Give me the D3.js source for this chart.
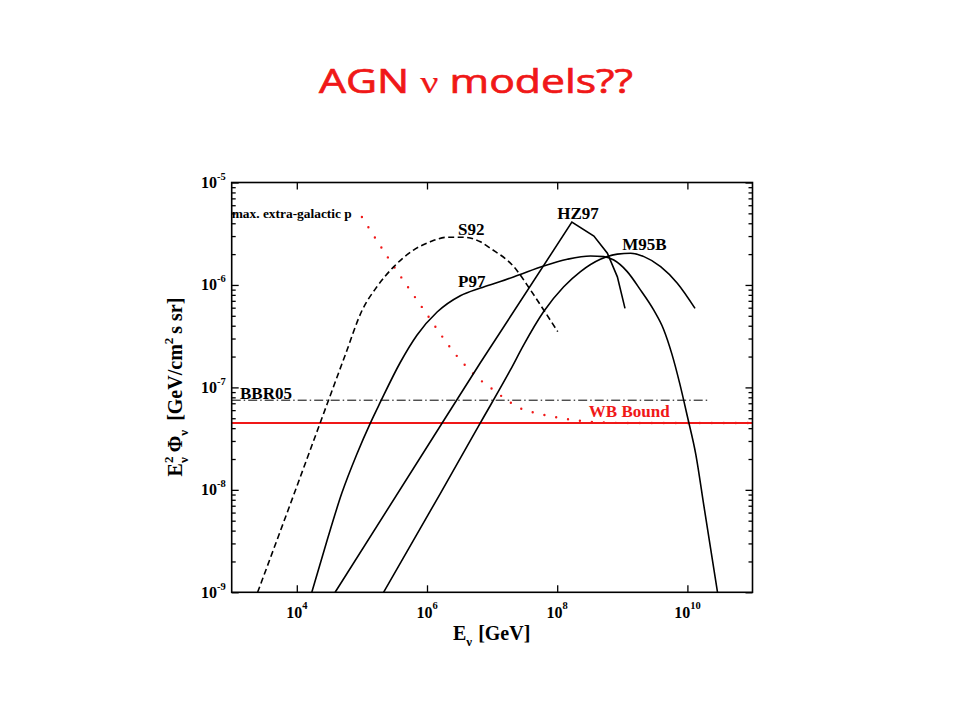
<!DOCTYPE html>
<html><head><meta charset="utf-8">
<script src="https://cdn.jsdelivr.net/npm/d3@7"></script>
<style>body{margin:0;background:#fff}</style>
</head><body>
<svg id="c" width="960" height="720"></svg>
<script>
// ---- data ----
const xTicks = [1e4, 1e6, 1e8, 1e10];
const xTickExp = ["4", "6", "8", "10"];
const yTicks = [1e-9, 1e-8, 1e-7, 1e-6, 1e-5];
const yTickExp = ["-9", "-8", "-7", "-6", "-5"];

const s92E = [2.5e3, 7.9e3, 2.28e4, 5.53e4, 1.0e5, 1.7e5, 3.1e5, 6.2e5, 1.12e6, 2.03e6, 3.66e6, 6.6e6, 9.4e6, 2.15e7, 3.9e7, 6.2e7, 1.02e8];
const s92F = [1.0e-9, 7.18e-9, 4.48e-8, 2.06e-7, 5.6e-7, 9.6e-7, 1.51e-6, 2.19e-6, 2.64e-6, 2.92e-6, 2.92e-6, 2.64e-6, 2.28e-6, 1.51e-6, 8.9e-7, 5.7e-7, 3.5e-7];

const p97E = [1.7e4, 2.9e4, 4.92e4, 8.38e4, 1.37e5, 1.91e5, 3.88e5, 7.0e5, 1.43e6, 3.25e6, 6.6e6, 1.34e7, 2.56e7, 6.2e7, 1.43e8, 3.25e8, 5.2e8, 7.4e8, 1.19e9, 1.91e9, 3.03e9, 4.3e9, 5.8e9, 7.6e9, 1.0e10, 1.35e10, 1.8e10, 2.9e10];
const p97F = [1.0e-9, 3.17e-9, 9.3e-9, 2.24e-8, 4.59e-8, 7.13e-8, 1.75e-7, 3.23e-7, 5.44e-7, 7.85e-7, 9.33e-7, 1.08e-6, 1.25e-6, 1.53e-6, 1.78e-6, 1.92e-6, 1.89e-6, 1.75e-6, 1.35e-6, 8.9e-7, 5.7e-7, 3.7e-7, 2.1e-7, 1.1e-7, 5.2e-8, 2.2e-8, 6.85e-9, 1.0e-9];

const hz97E = [3.88e4, 1.7e6, 6.6e6, 1.68e8, 3.66e8, 5.9e8, 8.4e8, 1.1e9];
const hz97F = [1.0e-9, 4.47e-8, 1.74e-7, 4.1e-6, 3.0e-6, 2.04e-6, 1.2e-6, 5.9e-7];

const m95bE = [2.15e5, 1.6e6, 6.6e6, 1.91e7, 3.06e7, 6.2e7, 1.26e8, 2.28e8, 4.6e8, 8.4e8, 1.34e9, 2.15e9, 3.88e9, 7.0e9, 1.31e10];
const m95bF = [1.0e-9, 9.2e-9, 4.5e-8, 1.48e-7, 2.6e-7, 5.5e-7, 9.6e-7, 1.35e-6, 1.78e-6, 2.0e-6, 2.04e-6, 1.89e-6, 1.51e-6, 1.04e-6, 5.9e-7];

const maxpE = [1e5, 2.5e5, 7.9e5, 3.25e6, 6.6e6, 1.06e7, 1.7e7, 2.72e7, 4.92e7, 1e8, 1.8e8, 3.25e8, 9.4e8, 1e11];
const maxpF = [4.6e-6, 1.86e-6, 6.4e-7, 1.85e-7, 1.18e-7, 9.4e-8, 7.5e-8, 6.25e-8, 5.58e-8, 5.1e-8, 4.8e-8, 4.62e-8, 4.5e-8, 4.5e-8];

const wbE = [1e3, 1e11];
const wbF = [4.5e-8, 4.5e-8];
const bbrE = [1e3, 2.24e10];
const bbrF = [7.5e-8, 7.5e-8];

const labelText = ["max. extra-galactic p", "S92", "P97", "HZ97", "M95B", "WB Bound", "BBR05"];
const labelE = [1.0e3, 3.0e6, 3.0e6, 1.0e8, 1.0e9, 3.06e8, 1.34e3];
const labelF = [4.5e-6, 3.08e-6, 9.55e-7, 4.37e-6, 2.19e-6, 5.1e-8, 7.7e-8];

// ---- layout ----
const X0 = 231.7, X1 = 752.5, Y0 = 592.3, Y1 = 182.5;
const serif = "'Liberation Serif','Times New Roman',serif";
const RED = "#f01818";
const svg = d3.select("#c");
const x = d3.scaleLog().domain([1e3, 1e11]).range([X0, X1]);
const y = d3.scaleLog().domain([1e-9, 1e-5]).range([Y0, Y1]);

// title
const title = svg.append("text").attr("x", 476).attr("y", 93)
  .attr("text-anchor", "middle").attr("fill", RED).attr("stroke", RED).attr("stroke-width", 0.7)
  .attr("font-family", "'Open Sans','Noto Sans',sans-serif").attr("font-size", 33)
  .attr("textLength", 314).attr("lengthAdjust", "spacingAndGlyphs");
title.append("tspan").text("AGN ");
title.append("tspan").attr("font-family", serif).attr("font-size", 31).attr("stroke-width", 0.2).text("ν");
title.append("tspan").text(" models??");

// clip
svg.append("clipPath").attr("id", "clip").append("rect")
  .attr("x", X0).attr("y", Y1).attr("width", X1 - X0).attr("height", Y0 - Y1);
const plot = svg.append("g").attr("clip-path", "url(#clip)");

const line = d3.line().x(d => x(d[0])).y(d => y(d[1]));
const smooth = d3.line().x(d => x(d[0])).y(d => y(d[1])).curve(d3.curveMonotoneX);

plot.append("path").datum(d3.zip(wbE, wbF)).attr("d", line)
  .attr("fill", "none").attr("stroke", RED).attr("stroke-width", 2);
plot.append("path").datum(d3.zip(bbrE, bbrF)).attr("d", line)
  .attr("fill", "none").attr("stroke", "#000").attr("stroke-width", 1)
  .attr("stroke-dasharray", "9,3,1.5,3");
plot.append("path").datum(d3.zip(maxpE, maxpF)).attr("d", smooth)
  .attr("fill", "none").attr("stroke", RED).attr("stroke-width", 2.4)
  .attr("stroke-linecap", "round").attr("stroke-dasharray", "0,12");
plot.append("path").datum(d3.zip(s92E, s92F)).attr("d", smooth)
  .attr("fill", "none").attr("stroke", "#000").attr("stroke-width", 1.6)
  .attr("stroke-dasharray", "6,3.5");
plot.append("path").datum(d3.zip(p97E, p97F)).attr("d", smooth)
  .attr("fill", "none").attr("stroke", "#000").attr("stroke-width", 1.6);
plot.append("path").datum(d3.zip(hz97E, hz97F)).attr("d", line)
  .attr("fill", "none").attr("stroke", "#000").attr("stroke-width", 1.6);
plot.append("path").datum(d3.zip(m95bE, m95bF)).attr("d", smooth)
  .attr("fill", "none").attr("stroke", "#000").attr("stroke-width", 1.6);

// axes (tick marks only)
const isMajor = v => Math.abs(Math.log10(v) - Math.round(Math.log10(v))) < 1e-6;
const yMinor = y.ticks().filter(v => !isMajor(v));
function ax(g) { g.select(".domain").remove(); g.selectAll("line").attr("stroke-width", 1.3); }
svg.append("g").attr("transform", `translate(0,${Y0})`)
  .call(d3.axisBottom(x).tickValues(xTicks).tickSizeInner(-7).tickSizeOuter(0).tickFormat("")).call(ax);
svg.append("g").attr("transform", `translate(0,${Y1})`)
  .call(d3.axisTop(x).tickValues(xTicks).tickSizeInner(-7).tickSizeOuter(0).tickFormat("")).call(ax);
svg.append("g").attr("transform", `translate(${X0},0)`)
  .call(d3.axisLeft(y).tickValues(yTicks).tickSizeInner(-7).tickSizeOuter(0).tickFormat("")).call(ax);
svg.append("g").attr("transform", `translate(${X0},0)`)
  .call(d3.axisLeft(y).tickValues(yMinor).tickSizeInner(-4).tickSizeOuter(0).tickFormat("")).call(ax);
svg.append("g").attr("transform", `translate(${X1},0)`)
  .call(d3.axisRight(y).tickValues(yTicks).tickSizeInner(-7).tickSizeOuter(0).tickFormat("")).call(ax);
svg.append("g").attr("transform", `translate(${X1},0)`)
  .call(d3.axisRight(y).tickValues(yMinor).tickSizeInner(-4).tickSizeOuter(0).tickFormat("")).call(ax);

svg.append("rect").attr("x", X0).attr("y", Y1).attr("width", X1 - X0).attr("height", Y0 - Y1)
  .attr("fill", "none").attr("stroke", "#000").attr("stroke-width", 1.6);

// tick labels
yTicks.forEach((v, i) => {
  const t = svg.append("text").attr("x", X0 - 6).attr("y", y(v) + 5.5)
    .attr("text-anchor", "end").attr("font-family", serif).attr("font-weight", "bold");
  t.append("tspan").attr("font-size", 16).text("10");
  t.append("tspan").attr("font-size", 10.5).attr("dy", -8).text(yTickExp[i]);
});
xTicks.forEach((v, i) => {
  const t = svg.append("text").attr("x", x(v)).attr("y", 618)
    .attr("text-anchor", "middle").attr("font-family", serif).attr("font-weight", "bold");
  t.append("tspan").attr("font-size", 16).text("10");
  t.append("tspan").attr("font-size", 10.5).attr("dy", -9).text(xTickExp[i]);
});

// curve labels
labelText.forEach((s, i) => {
  svg.append("text").attr("x", x(labelE[i])).attr("y", y(labelF[i]))
    .attr("font-family", serif).attr("font-weight", "bold")
    .attr("font-size", i === 0 ? 13.4 : 17)
    .attr("fill", s === "WB Bound" ? RED : "#000").text(s);
});

// x axis title
const xt = svg.append("text").attr("x", 453).attr("y", 640)
  .attr("font-family", serif).attr("font-weight", "bold").attr("font-size", 20);
xt.append("tspan").text("E");
xt.append("tspan").attr("font-size", 13).attr("dy", 6).text("ν");
xt.append("tspan").attr("dy", -6).attr("dx", 6).text("[GeV]");

// y axis title
const yt = svg.append("text").attr("transform", "translate(182,387) rotate(-90)")
  .attr("text-anchor", "middle").attr("font-family", serif).attr("font-weight", "bold").attr("font-size", 20);
yt.append("tspan").text("E");
yt.append("tspan").attr("font-size", 13).attr("dy", -9).text("2");
yt.append("tspan").attr("font-size", 13).attr("dx", -6.5).attr("dy", 15).text("ν");
yt.append("tspan").attr("dx", 5).attr("dy", -6).text("Φ");
yt.append("tspan").attr("font-size", 13).attr("dy", 6).text("ν");
yt.append("tspan").attr("dx", 9).attr("dy", -6).text("[GeV/cm");
yt.append("tspan").attr("font-size", 13).attr("dy", -9).text("2");
yt.append("tspan").attr("dx", 4).attr("dy", 9).text("s sr]");
</script>
</body></html>
